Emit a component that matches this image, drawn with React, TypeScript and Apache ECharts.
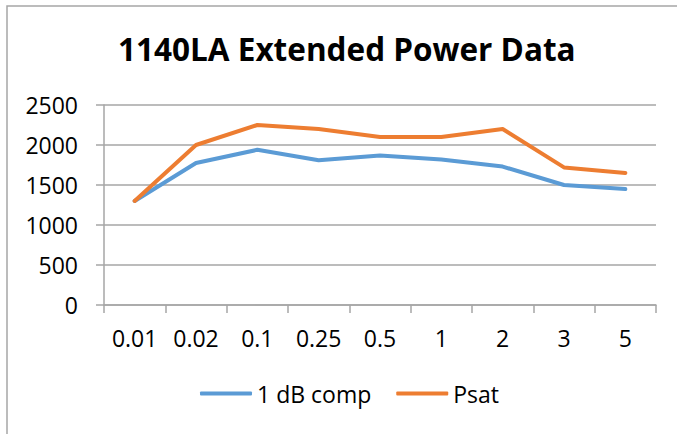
import React, { useEffect, useRef } from "react";
import * as echarts from "echarts";

const categories = ["0.01", "0.02", "0.1", "0.25", "0.5", "1", "2", "3", "5"];
const comp1dB = [1300, 1775, 1940, 1810, 1870, 1820, 1730, 1500, 1450];
const psat = [1300, 2000, 2250, 2200, 2100, 2100, 2200, 1720, 1650];
const seriesNames = ["1 dB comp", "Psat"];
const titleText = "1140LA Extended Power Data";

const FONT = "'Open Sans', sans-serif";

export default function App() {
  const ref = useRef<HTMLDivElement>(null);
  useEffect(() => {
    if (!ref.current) return;
    const chart = echarts.init(ref.current, undefined, { renderer: "svg" });
    chart.setOption({
      animation: false,
      backgroundColor: "#ffffff",
      title: {
        text: titleText,
        left: 113,
        top: 27,
        textStyle: { fontFamily: FONT, fontSize: 31.5, fontWeight: "bold", color: "#000" },
      },
      graphic: [
        {
          type: "rect",
          shape: { x: 7, y: 6, width: 720, height: 500 },
          style: { fill: "none", stroke: "#a6a6a6", lineWidth: 1.5 },
          silent: true,
        },
      ],
      legend: {
        bottom: 24,
        left: 195,
        itemWidth: 52,
        itemHeight: 4,
        itemGap: 25,
        icon: "roundRect",
        textStyle: { fontFamily: FONT, fontSize: 23, color: "#000" },
        data: seriesNames,
      },
      grid: { left: 104, right: 21, top: 105, bottom: 129 },
      xAxis: {
        type: "category",
        data: categories,
        boundaryGap: true,
        axisLine: { lineStyle: { color: "#a6a6a6", width: 1.5 } },
        axisTick: { show: true, length: 8, alignWithLabel: false, lineStyle: { color: "#a6a6a6", width: 1.5 } },
        axisLabel: { fontFamily: FONT, fontSize: 23, color: "#000", margin: 21 },
      },
      yAxis: {
        type: "value",
        min: 0,
        max: 2500,
        interval: 500,
        axisLine: { show: true, lineStyle: { color: "#a6a6a6", width: 1.5 } },
        axisTick: { show: true, length: 8, lineStyle: { color: "#a6a6a6", width: 1.5 } },
        splitLine: { lineStyle: { color: "#a6a6a6", width: 1.5 } },
        axisLabel: {
          fontFamily: FONT,
          fontSize: 23,
          color: "#000",
          margin: 26,
          formatter: (v: number) => String(v),
        },
      },
      series: [
        {
          name: seriesNames[0],
          type: "line",
          data: comp1dB,
          symbol: "none",
          lineStyle: { color: "#5B9BD5", width: 4, cap: "round", join: "round" },
          itemStyle: { color: "#5B9BD5" },
        },
        {
          name: seriesNames[1],
          type: "line",
          data: psat,
          symbol: "none",
          lineStyle: { color: "#ED7D31", width: 4, cap: "round", join: "round" },
          itemStyle: { color: "#ED7D31" },
        },
      ],
    });
    return () => chart.dispose();
  }, []);
  return (
    <div
      ref={ref}
      style={{ position: "absolute", left: 0, top: 0, width: 677, height: 434 }}
    />
  );
}
